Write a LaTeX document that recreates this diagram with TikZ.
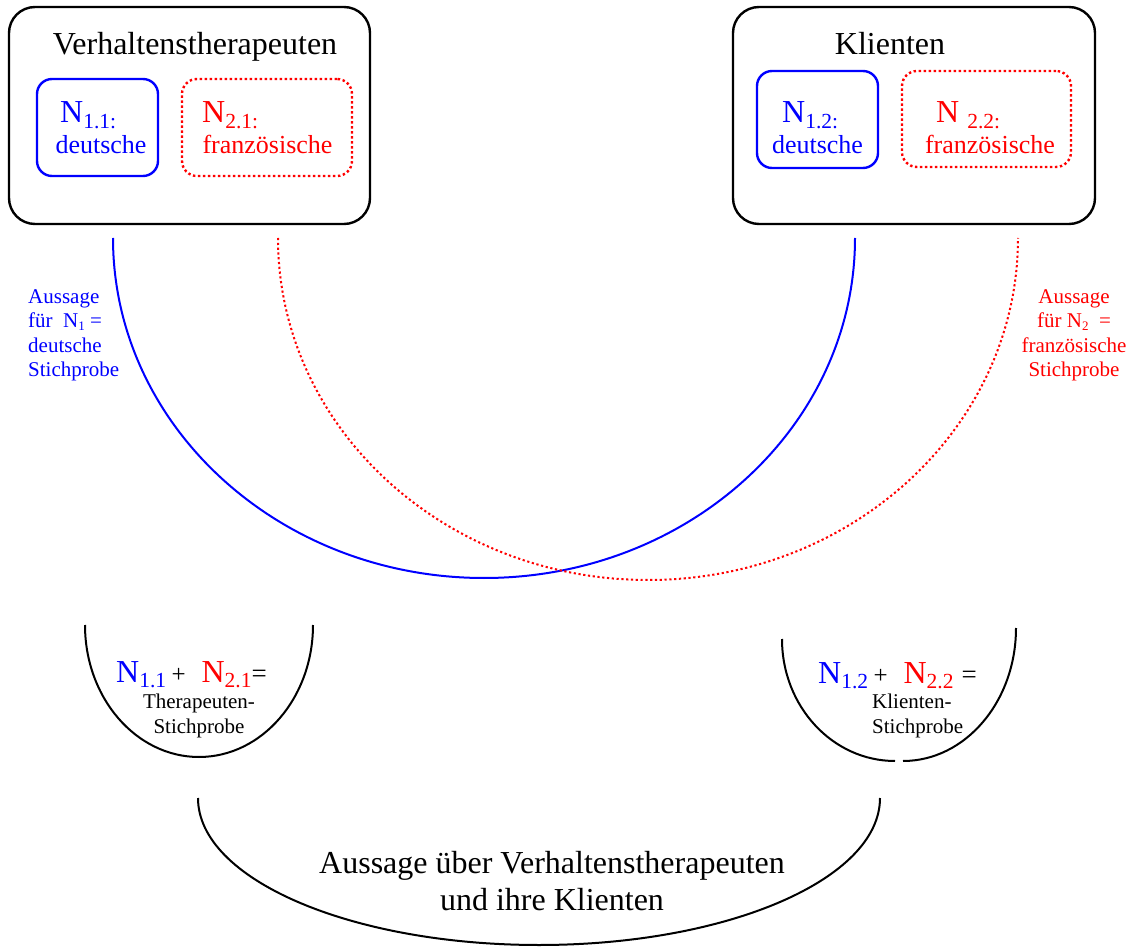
\documentclass[tikz,border=0pt]{standalone}
\usepackage{fontspec}
\setmainfont{Liberation Serif}
% type sizes
\newcommand\bigtxt{\fontsize{32}{37}\selectfont}
\newcommand\midtxt{\fontsize{26}{30}\selectfont}
\newcommand\smalltxt{\fontsize{21}{24.5}\selectfont}
% lowered index after a large N
\newcommand\lowidx[1]{\raisebox{-5.5pt}{\fontsize{21.5}{21.5}\selectfont #1}}
\newcommand\tinyidx[1]{\raisebox{-3pt}{\fontsize{13}{13}\selectfont #1}}
\begin{document}
\begin{tikzpicture}[x=1pt,y=-1pt,
  outerbox/.style={draw=black, line width=2.4pt, rounded corners=26pt, inner sep=0pt},
  gerbox/.style={draw=blue, line width=2.4pt, rounded corners=15pt, inner sep=0pt},
  frabox/.style={draw=red, line width=2.4pt, dash pattern=on 2.4pt off 2.6pt, rounded corners=15pt, inner sep=0pt},
  gerline/.style={draw=blue, line width=2pt},
  fraline/.style={draw=red, line width=2pt, dash pattern=on 2.2pt off 2.6pt},
  bowl/.style={draw=black, line width=2pt},
  lbl/.style={inner sep=0pt}
]
\useasboundingbox (0,0) rectangle (1133,949);

% upper groups
\node[outerbox, minimum width=361pt, minimum height=217pt] (ther) at (189.5,115.5) {};
\node[outerbox, minimum width=362pt, minimum height=217pt] (kli) at (914,115.5) {};
\node[gerbox, minimum width=121pt, minimum height=97pt] (g1) at (97.5,127.5) {};
\node[frabox, minimum width=170pt, minimum height=97pt] (f1) at (267,127.5) {};
\node[gerbox, minimum width=121pt, minimum height=97pt] (g2) at (817.5,119.5) {};
\node[frabox, minimum width=169pt, minimum height=96pt] (f2) at (986.5,119) {};

\node[lbl, anchor=base, font=\bigtxt] (thertitle) at (195,55) {Verhaltenstherapeuten};
\node[lbl, anchor=base, font=\bigtxt] (klititle) at (890,55) {Klienten};

\node[lbl, anchor=base west, text=blue, font=\bigtxt] (g1n) at (60,123) {N\lowidx{1.1:}};
\node[lbl, anchor=base, text=blue, font=\midtxt] (g1t) at (101,154) {deutsche};
\node[lbl, anchor=base west, text=red, font=\bigtxt] (f1n) at (202,123) {N\lowidx{2.1:}};
\node[lbl, anchor=base, text=red, font=\midtxt] (f1t) at (267.5,154) {französische};
\node[lbl, anchor=base west, text=blue, font=\bigtxt] (g2n) at (782,123) {N\lowidx{1.2:}};
\node[lbl, anchor=base, text=blue, font=\midtxt] (g2t) at (817.5,154) {deutsche};
\node[lbl, anchor=base west, text=red, font=\bigtxt] (f2n) at (936,123) {N \lowidx{2.2:}};
\node[lbl, anchor=base, text=red, font=\midtxt] (f2t) at (990,154) {französische};

% sample arcs
\coordinate (gstart) at (113,238);
\coordinate (fstart) at (278,238);
\draw[gerline] (gstart) arc[start angle=180, end angle=360, x radius=371pt, y radius=340pt] coordinate (gend);
\draw[fraline] (fstart) arc[start angle=180, end angle=360, x radius=370pt, y radius=342pt] coordinate (fend);

\node[lbl, anchor=north west, align=left, text=blue, font=\smalltxt] (gnote) at (28,289)
  {Aussage\\für\ \ N\tinyidx{1} =\\deutsche\\Stichprobe};
\node[lbl, anchor=north, align=center, text=red, font=\smalltxt] (fnote) at (1074,289)
  {Aussage\\für N\tinyidx{2}\ \ =\\französische\\Stichprobe};

% lower bowls
\coordinate (tbowl) at (85,625);
\draw[bowl] (tbowl) arc[start angle=180, end angle=360, x radius=114pt, y radius=132pt];
\coordinate (kbowl) at (782,639);
\coordinate (kbowlb) at (903,761);
\draw[bowl] (kbowl) arc[start angle=180, end angle=270, x radius=113pt, y radius=122pt];
\draw[bowl] (kbowlb) arc[start angle=270, end angle=360, x radius=113pt, y radius=133pt];
\coordinate (abowl) at (198,798);
\draw[bowl] (abowl) arc[start angle=180, end angle=360, x radius=341pt, y radius=147pt];

\node[lbl, anchor=base west, font=\bigtxt] (tsum) at (116,682)
  {\textcolor{blue}{N\lowidx{1.1}}\,{\fontsize{25}{25}\selectfont +}\ \ \textcolor{red}{N\lowidx{2.1}}{\fontsize{27}{27}\selectfont =}};
\node[lbl, anchor=north, align=center, font=\smalltxt] (tsumt) at (199,694) {Therapeuten-\\Stichprobe};
\node[lbl, anchor=base west, font=\bigtxt] (ksum) at (818,683)
  {\textcolor{blue}{N\lowidx{1.2}}\,{\fontsize{25}{25}\selectfont +}\ \ \textcolor{red}{N\lowidx{2.2}}\ {\fontsize{27}{27}\selectfont =}};
\node[lbl, anchor=north west, align=left, font=\smalltxt] (ksumt) at (872,694) {Klienten-\\Stichprobe};

\node[lbl, anchor=north, align=center, font=\bigtxt] (result) at (552,851)
  {Aussage über Verhaltenstherapeuten\\und ihre Klienten};
\end{tikzpicture}
\end{document}
